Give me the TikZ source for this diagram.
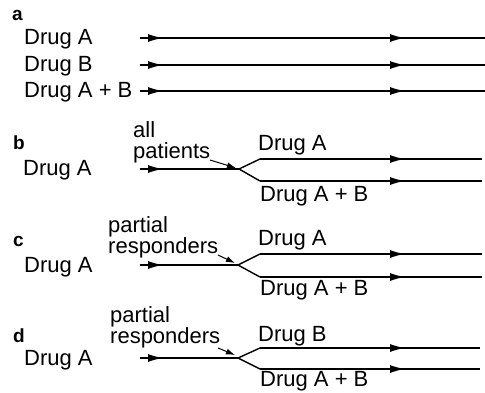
\documentclass[tikz,border=0pt]{standalone}
\usepackage{fontspec}
\setmainfont{Liberation Sans}
\usetikzlibrary{arrows.meta,decorations.markings,positioning}

\tikzset{
	flowtip/.tip={Latex[length=15pt,width=8pt]},
	flow/.style={line width=1.4pt},
	arrowat/.style={postaction={decorate, decoration={markings, mark=at position #1 with {\arrow{flowtip}}}}},
	pointer/.style={line width=1pt, -{Latex[length=9pt,width=6pt]}},
	label/.style={inner sep=0pt, anchor=base west, font=\fontsize{22}{22}\selectfont},
	panel/.style={inner sep=0pt, anchor=base west, font=\fontsize{19}{20}\selectfont\bfseries},
	note/.style={inner sep=0pt, anchor=base west, align=left, font=\fontsize{22}{21}\selectfont}
}

\begin{document}
\begin{tikzpicture}[x=1pt, y=-1pt]
			\useasboundingbox (0,0) rectangle (485,392);

			% a
			\node[panel] (pa) at (12,20) {a};
			\node[label] (a1) at (24,44) {Drug A};
			\node[label] (a2) at (24,71) {Drug B};
			\node[label] (a3) at (24,97) {Drug A + B};
			\coordinate (a1s) at (140,38);  \coordinate (a1e) at (485,38);
			\coordinate (a2s) at (140,65);  \coordinate (a2e) at (485,65);
			\coordinate (a3s) at (140,91);  \coordinate (a3e) at (485,91);

			% b
			\node[panel] (pb) at (13,149) {b};
			\node[label] (b0) at (23,175) {Drug A};
			\node[note] (bn) at (133,158) {all\\patients};
			\node[label] (bu) at (258,150) {Drug A};
			\node[label] (bl) at (260,201) {Drug A + B};
			\coordinate (bs) at (140,169);  \coordinate (bx) at (239,169);
			\coordinate (bu1) at (260,159); \coordinate (bu2) at (482,159);
			\coordinate (bl1) at (260,181); \coordinate (bl2) at (482,181);
			\coordinate (bp) at (210,160);  \coordinate (bq) at (236,168);

			% c
			\node[panel] (pc) at (13,246) {c};
			\node[label] (c0) at (24,272) {Drug A};
			\node[note] (cn) at (108,253) {partial\\responders};
			\node[label] (cu) at (258,245) {Drug A};
			\node[label] (cl) at (260,295) {Drug A + B};
			\coordinate (cs) at (140,265);  \coordinate (cx) at (238,265);
			\coordinate (cu1) at (260,254); \coordinate (cu2) at (482,254);
			\coordinate (cl1) at (260,277); \coordinate (cl2) at (482,277);
			\coordinate (cp) at (218,255);  \coordinate (cq) at (235,263);

			% d
			\node[panel] (pd) at (13,342) {d};
			\node[label] (d0) at (24,365) {Drug A};
			\node[note] (dn) at (110,343) {partial\\responders};
			\node[label] (du) at (258,341) {Drug B};
			\node[label] (dl) at (260,386) {Drug A + B};
			\coordinate (ds) at (140,358);  \coordinate (dx) at (238,358);
			\coordinate (du1) at (260,348); \coordinate (du2) at (480,348);
			\coordinate (dl1) at (260,369); \coordinate (dl2) at (480,369);
			\coordinate (dp) at (218,348);  \coordinate (dq) at (235,355);

			\path[flow]
				(a1s) edge[arrowat=23pt, arrowat=265pt] (a1e)
				(a2s) edge[arrowat=23pt, arrowat=265pt] (a2e)
				(a3s) edge[arrowat=23pt, arrowat=265pt] (a3e)

				(bs) edge[arrowat=23pt] (bx)
				(bx) edge (bu1)
				(bx) edge (bl1)
				(bu1) edge[arrowat=145pt] (bu2)
				(bl1) edge[arrowat=145pt] (bl2)

				(cs) edge[arrowat=23pt] (cx)
				(cx) edge (cu1)
				(cx) edge (cl1)
				(cu1) edge[arrowat=145pt] (cu2)
				(cl1) edge[arrowat=145pt] (cl2)

				(ds) edge[arrowat=23pt] (dx)
				(dx) edge (du1)
				(dx) edge (dl1)
				(du1) edge[arrowat=145pt] (du2)
				(dl1) edge[arrowat=145pt] (dl2)
			;

			\draw[pointer] (bp) -- (bq);
			\draw[pointer] (cp) -- (cq);
			\draw[pointer] (dp) -- (dq);
		\end{tikzpicture}
\end{document}
